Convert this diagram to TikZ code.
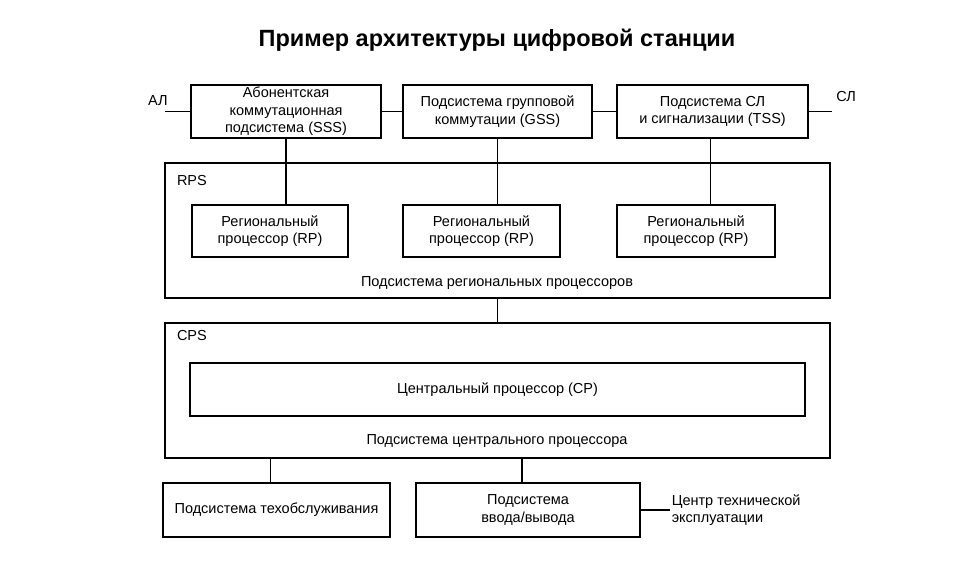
\documentclass[tikz,border=0pt]{standalone}
\usepackage{fontspec}
\setmainfont{Liberation Sans}
\usetikzlibrary{positioning}

\begin{document}
\begin{tikzpicture}[
			x=1pt, y=-1pt,
			line width=1.6pt,
			box/.style = {draw, align=center, inner sep=1pt, font=\fontsize{14.5}{17.5}\selectfont},
			txt/.style = {inner sep=1pt, font=\fontsize{14.5}{17.5}\selectfont}
		]
		\useasboundingbox (0,0) rectangle (960,567);
		\node[font=\fontsize{23.5}{28}\bfseries] (title) at (497,40) {Пример архитектуры цифровой станции};
		% switching subsystems
		\node[box, minimum width=190pt, minimum height=53pt] (sss) at (286,111.5) {Абонентская\\коммутационная\\подсистема (SSS)};
		\node[box, minimum width=189pt, minimum height=53pt] (gss) at (497.5,111.5) {Подсистема групповой\\коммутации (GSS)};
		\node[box, minimum width=191pt, minimum height=53pt] (tss) at (712.5,111.5) {Подсистема СЛ\\и сигнализации (TSS)};
		\node[txt] (al) at (158,101) {АЛ};
		\node[txt] (sl) at (846,97) {СЛ};
		\coordinate (alend) at (165,111.5);
		\coordinate (slend) at (832,111.5);
		\draw (alend) -- (sss);
		\draw (sss) -- (gss);
		\draw (gss) -- (tss);
		\draw (tss) -- (slend);
		% regional processors
		\node[box, minimum width=665pt, minimum height=135pt] (rps) at (497.5,230.5) {};
		\node[txt, anchor=north west] (rpslab) at ([shift={(11,11)}]rps.north west) {RPS};
		\node[box, minimum width=156pt, minimum height=52pt] (rp1) at (270,231) {Региональный\\процессор (RP)};
		\node[box, minimum width=157pt, minimum height=52pt] (rp2) at (481.5,231) {Региональный\\процессор (RP)};
		\node[box, minimum width=158pt, minimum height=52pt] (rp3) at (696,231) {Региональный\\процессор (RP)};
		\node[txt] (rpsname) at (497,283) {Подсистема региональных процессоров};
		\draw (sss) -- (sss.south |- rp1.north);
		\draw (gss) -- (gss.south |- rp2.north);
		\draw ([xshift=-2pt]tss.south) -- ([xshift=-2pt]tss.south |- rp3.north);
		% central processor
		\node[box, minimum width=665pt, minimum height=135pt] (cps) at (497.5,390.5) {};
		\node[txt, anchor=north west] (cpslab) at ([shift={(11,6)}]cps.north west) {CPS};
		\node[box, minimum width=615pt, minimum height=53pt] (cp) at (497.5,389.5) {Центральный процессор (CP)};
		\node[txt] (cpsname) at (497,441) {Подсистема центрального процессора};
		\draw (rps) -- (cps);
		% maintenance and input/output
		\node[box, minimum width=227pt, minimum height=54pt] (mnt) at (276.5,510) {Подсистема техобслуживания};
		\node[box, minimum width=224pt, minimum height=54pt] (io) at (528,510) {Подсистема\\ввода/вывода};
		\node[txt, align=left, anchor=west] (tech) at (670,510) {Центр технической\\эксплуатации};
		\draw ([xshift=-6pt]mnt.north) -- ([xshift=-6pt]mnt.north |- cps.south);
		\draw ([xshift=-6pt]io.north) -- ([xshift=-6pt]io.north |- cps.south);
		\draw (io) -- (tech);
	\end{tikzpicture}
\end{document}
